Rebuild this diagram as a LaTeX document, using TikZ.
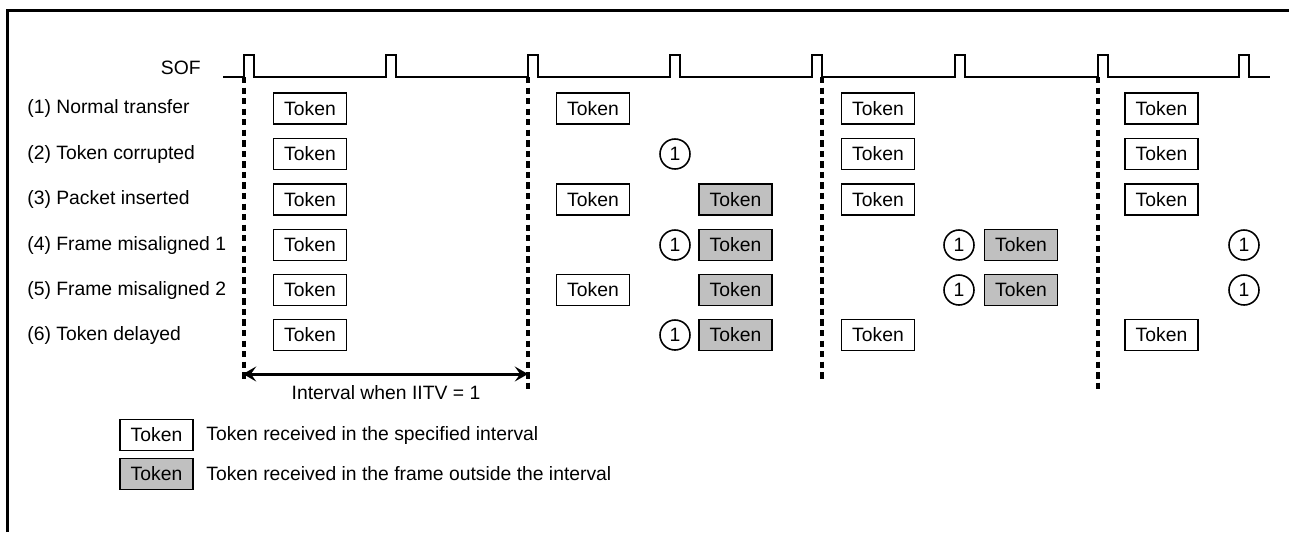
\documentclass[tikz,border=0pt]{standalone}
\usepackage{fontspec}
\setmainfont{Liberation Sans}
\usetikzlibrary{arrows.meta}
\definecolor{lategray}{RGB}{192,192,192}

\begin{document}
\begin{tikzpicture}[>={Stealth[length=7.5pt,width=8.5pt,inset=3pt]}, x=0.02cm, y=-0.02cm,
    every node/.style={font=\fontsize{11}{13}\selectfont},
    tok/.style={draw, line width=0.9pt, minimum width=1.46cm, minimum height=0.62cm, inner sep=0pt},
    late/.style={tok, fill=lategray},
    lost/.style={draw, circle, line width=0.9pt, minimum size=0.6cm, inner sep=0pt},
    rowlabel/.style={anchor=west, inner sep=0pt},
    fbound/.style={line width=1.8pt, dash pattern=on 3.6pt off 2.4pt}]
    \useasboundingbox (0,0) rectangle (1289,532);
    % frame
    \draw[line width=1.8pt] (7.5,532) -- (7.5,10.5) -- (1289,10.5);

    % SOF pulses
    \node[anchor=east, inner sep=0pt] (sof) at (201,68) {SOF};
    \draw[line width=1.1pt] (223,77)
        -- (244,77) -- (244,55) -- (254,55) -- (254,77)
        -- (386,77) -- (386,55) -- (396,55) -- (396,77)
        -- (528,77) -- (528,55) -- (538,55) -- (538,77)
        -- (670,77) -- (670,55) -- (680,55) -- (680,77)
        -- (812,77) -- (812,55) -- (822,55) -- (822,77)
        -- (955,77) -- (955,55) -- (965,55) -- (965,77)
        -- (1098,77) -- (1098,55) -- (1108,55) -- (1108,77)
        -- (1239,77) -- (1239,55) -- (1249,55) -- (1249,77)
        -- (1270,77);

    % frame boundaries
    \coordinate (b1t) at (244,77);  \coordinate (b1b) at (244,380);
    \coordinate (b2t) at (528,77);  \coordinate (b2b) at (528,392);
    \coordinate (b3t) at (822,77);  \coordinate (b3b) at (822,382);
    \coordinate (b4t) at (1098,77); \coordinate (b4b) at (1098,390);
    \draw[fbound] (b1t) -- (b1b);
    \draw[fbound] (b2t) -- (b2b);
    \draw[fbound] (b3t) -- (b3b);
    \draw[fbound] (b4t) -- (b4b);

    % row labels
    \node[rowlabel] (lab1) at (27,108.5) {(1) Normal transfer};
    \node[rowlabel] (lab2) at (27,154) {(2) Token corrupted};
    \node[rowlabel] (lab3) at (27,199.5) {(3) Packet inserted};
    \node[rowlabel] (lab4) at (27,245) {(4) Frame misaligned 1};
    \node[rowlabel] (lab5) at (27,290) {(5) Frame misaligned 2};
    \node[rowlabel] (lab6) at (27,335) {(6) Token delayed};

    % (1)
    \node[tok] (t1a) at (310,108.5) {Token};
    \node[tok] (t1b) at (593,108.5) {Token};
    \node[tok] (t1d) at (878,108.5) {Token};
    \node[tok] (t1f) at (1161.5,108.5) {Token};
    % (2)
    \node[tok] (t2a) at (310,154) {Token};
    \node[lost] (c2c) at (675,154) {1};
    \node[tok] (t2d) at (878,154) {Token};
    \node[tok] (t2f) at (1161.5,154) {Token};
    % (3)
    \node[tok] (t3a) at (310,199.5) {Token};
    \node[tok] (t3b) at (593,199.5) {Token};
    \node[late] (g3c) at (735.5,199.5) {Token};
    \node[tok] (t3d) at (878,199.5) {Token};
    \node[tok] (t3f) at (1161.5,199.5) {Token};
    % (4)
    \node[tok] (t4a) at (310,245) {Token};
    \node[lost] (c4c) at (675,245) {1};
    \node[late] (g4c) at (735.5,245) {Token};
    \node[lost] (c4e) at (959,245) {1};
    \node[late] (g4e) at (1021,245) {Token};
    \node[lost] (c4f) at (1244,245) {1};
    % (5)
    \node[tok] (t5a) at (310,290) {Token};
    \node[tok] (t5b) at (593,290) {Token};
    \node[late] (g5c) at (735.5,290) {Token};
    \node[lost] (c5e) at (959,290) {1};
    \node[late] (g5e) at (1021,290) {Token};
    \node[lost] (c5f) at (1244,290) {1};
    % (6)
    \node[tok] (t6a) at (310,335) {Token};
    \node[lost] (c6c) at (675,335) {1};
    \node[late] (g6c) at (735.5,335) {Token};
    \node[tok] (t6d) at (878,335) {Token};
    \node[tok] (t6f) at (1161.5,335) {Token};

    % interval
    \coordinate (il) at (243,374);
    \coordinate (ir) at (528,374);
    \draw[<->, line width=1.7pt] (il) -- (ir);
    \node (ilab) at (386,393) {Interval when IITV = 1};

    % legend
    \node[tok] (keyin) at (156.5,435) {Token};
    \node[rowlabel] (keyintxt) at (206,435) {Token received in the specified interval};
    \node[late] (keyout) at (156.5,474) {Token};
    \node[rowlabel] (keyouttxt) at (206,474) {Token received in the frame outside the interval};
\end{tikzpicture}
\end{document}
